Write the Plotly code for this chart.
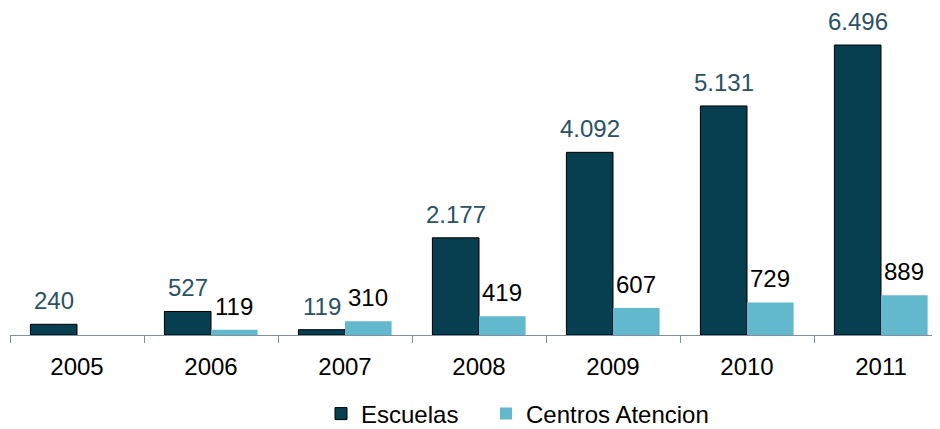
import plotly.graph_objects as go

years = ["2005", "2006", "2007", "2008", "2009", "2010", "2011"]
escuelas = [240, 527, 119, 2177, 4092, 5131, 6496]
centros = [None, 119, 310, 419, 607, 729, 889]

DARK = "#073E50"
LIGHT = "#62B8CC"
DARK_LABEL = "#2A5166"
FONT = "Liberation Sans, Arial, sans-serif"

# page body has an 8px margin, so offsets are compensated here
W, H = 940, 429
ML, MR, MT = 2, 0, 2
PLOT_H = 325
MB = H - MT - PLOT_H
XR = [-0.5, 6.5]
BARGAP = 0.3045

fig = go.Figure()
fig.add_trace(go.Bar(name="Escuelas", x=years, y=escuelas, legend="legend",
                     marker=dict(color=DARK, line=dict(color="#000000", width=1))))
fig.add_trace(go.Bar(name="Centros Atencion", x=years, y=centros, legend="legend2",
                     marker=dict(color=LIGHT, line=dict(width=0))))

cat_px = (W - ML - MR) / (XR[1] - XR[0])
bar_px = cat_px * (1 - BARGAP) / 2

def fmt(v):
    return f"{v:,}".replace(",", ".")

for vals, sign, col in ((escuelas, -1, DARK_LABEL), (centros, 1, "#000000")):
    for i, v in enumerate(vals):
        if v is None:
            continue
        fig.add_annotation(x=i, y=v, xref="x", yref="y", text=fmt(v), showarrow=False,
                           xanchor="center", yanchor="bottom",
                           xshift=sign * bar_px / 2, yshift=8,
                           font=dict(family=FONT, size=24, color=col))

axis_y = MT + PLOT_H
leg_common = dict(orientation="h", xanchor="left", yanchor="middle",
                  y=(axis_y - 406) / PLOT_H, font=dict(size=24),
                  bgcolor="rgba(0,0,0,0)")
fig.update_layout(
    width=W, height=H,
    margin=dict(l=ML, r=MR, t=MT, b=MB, autoexpand=False),
    paper_bgcolor="white", plot_bgcolor="white",
    barmode="group", bargap=BARGAP, bargroupgap=0,
    font=dict(family=FONT, size=24, color="#000000"),
    showlegend=True,
    legend=dict(x=(313 - ML) / (W - ML - MR), **leg_common),
    legend2=dict(x=(478 - ML) / (W - ML - MR), **leg_common),
)
fig.update_xaxes(type="category", range=XR, showline=True, linecolor="#7F909F",
                 linewidth=1, ticks="outside", tickson="boundaries", ticklen=7,
                 tickcolor="#7F909F", showgrid=False, ticklabelstandoff=10,
                 tickfont=dict(size=24, color="#000000"), automargin=False)
fig.update_yaxes(visible=False, range=[0, PLOT_H / 0.04464])

fig.write_html("out.html")
